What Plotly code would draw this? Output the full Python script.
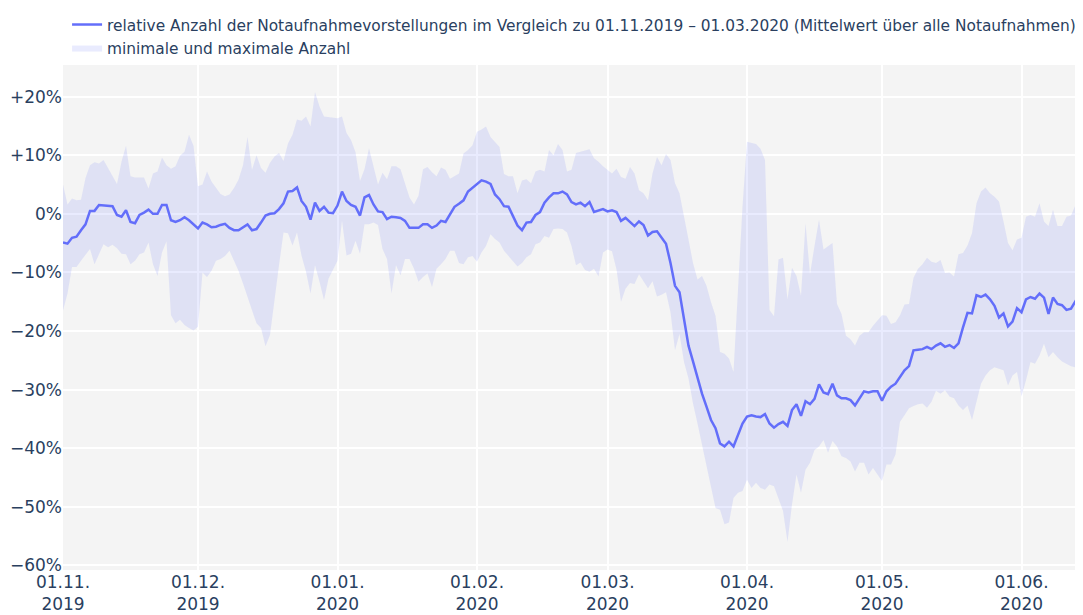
import pandas as pd
import plotly.graph_objects as go

# Tageswerte ab 01.11.2019, Abweichung in Prozent
start_date = "2019-11-01"

mean_pct = [
    -4.9, -5.1, -4.1, -3.9, -2.8, -1.8, 0.5, 0.5, 1.5, 1.4,
    1.3, 1.3, -0.2, -0.5, 0.6, -1.4, -1.6, -0.2, 0.2, 0.7,
    0.0, 0.0, 1.5, 1.5, -1.1, -1.4, -1.1, -0.6, -1.1, -1.8,
    -2.5, -1.5, -1.8, -2.3, -2.2, -1.9, -1.7, -2.4, -2.8, -2.8,
    -2.3, -1.8, -2.8, -2.6, -1.5, -0.3, 0.0, 0.1, 0.8, 1.8,
    3.8, 3.9, 4.5, 2.2, 1.2, -1.0, 1.9, 0.5, 1.2, 0.2,
    0.1, 1.4, 3.8, 2.2, 1.5, 1.2, -0.3, 2.8, 3.2, 1.6,
    0.4, 0.3, -0.9, -0.5, -0.6, -0.7, -1.2, -2.4, -2.4, -2.4,
    -1.8, -1.8, -2.4, -2.0, -1.2, -1.4, -0.1, 1.2, 1.7, 2.3,
    3.8, 4.4, 5.1, 5.7, 5.5, 5.1, 3.3, 2.5, 1.3, 1.2,
    -0.4, -2.0, -2.8, -1.5, -1.4, -0.2, 0.3, 1.9, 2.8, 3.5,
    3.5, 3.8, 3.3, 2.0, 1.6, 1.9, 1.3, 2.0, 0.3, 0.5,
    0.8, 0.4, 0.6, 0.3, -1.2, -0.7, -1.4, -2.1, -1.3, -1.9,
    -3.7, -3.1, -3.0, -4.0, -5.1, -8.4, -12.3, -13.4, -18.0, -22.5,
    -25.2, -28.1, -30.7, -32.9, -35.2, -36.6, -39.2, -39.7, -38.9, -39.7,
    -37.7, -35.8, -34.6, -34.4, -34.6, -34.7, -34.2, -35.8, -36.5, -35.9,
    -35.5, -36.2, -33.5, -32.5, -34.5, -32.0, -32.5, -31.6, -29.1, -30.5,
    -30.8, -29.0, -31.0, -31.5, -31.5, -31.8, -32.7, -31.5, -30.3, -30.5,
    -30.3, -30.3, -31.9, -30.3, -29.5, -29.0, -27.9, -26.7, -26.0, -23.3,
    -23.2, -23.1, -22.7, -23.1, -22.5, -22.1, -22.7, -22.4, -22.9, -22.1,
    -19.4, -16.9, -17.0, -13.9, -14.2, -13.8, -14.6, -15.7, -17.7, -17.0,
    -19.2, -18.4, -16.1, -16.8, -14.6, -14.2, -14.5, -13.6, -14.3, -17.1,
    -14.3, -15.4, -15.6, -16.4, -16.2, -14.9, -13.6,
]

max_pct = [
    5.0, 1.6, 2.6, 2.3, 2.4, 6.1, 8.3, 8.8, 8.6, 9.2,
    7.8, 6.5, 5.1, 8.9, 11.6, 6.4, 6.2, 6.2, 6.2, 4.3,
    6.9, 7.2, 9.6, 8.3, 7.7, 8.1, 9.9, 10.6, 13.5, 11.6,
    4.7, 5.0, 7.2, 5.5, 4.4, 3.4, 3.0, 3.3, 4.4, 5.8,
    8.3, 13.1, 7.5, 10.0, 7.8, 7.0, 8.7, 9.8, 10.4, 9.0,
    12.0, 13.5, 16.1, 15.9, 16.6, 14.9, 20.8, 18.3, 16.6, 16.5,
    16.5, 16.3, 16.6, 13.8, 12.6, 10.5, 5.6, 7.6, 11.2, 7.9,
    5.0, 7.0, 5.9, 8.1, 8.1, 7.6, 5.3, 2.8, 1.6, 3.1,
    7.6, 8.0, 7.1, 6.4, 7.9, 7.5, 6.0, 6.4, 6.9, 10.3,
    10.9, 11.7, 14.0, 14.4, 14.9, 13.1, 12.2, 11.4, 6.8, 6.4,
    6.4, 3.5, 5.7, 5.9, 5.2, 7.2, 7.5, 7.2, 10.9, 10.0,
    11.9, 10.9, 7.2, 7.5, 10.4, 10.6, 10.9, 11.0, 9.5, 8.9,
    8.1, 7.5, 6.9, 7.7, 6.3, 6.0, 8.0, 6.9, 4.0, 3.5,
    2.3, 6.9, 9.7, 8.3, 10.2, 9.2, 5.2, 3.5, -0.2, -4.4,
    -8.4, -11.2, -10.6, -12.3, -15.1, -17.4, -23.6, -23.9, -24.7, -27.0,
    -12.9, 1.2, 12.3, 12.1, 11.9, 11.1, 9.2, -16.4, -17.5, -7.8,
    -7.5, -14.6, -9.2, -10.6, -14.0, -1.6, -10.3, -5.5, -1.0, -6.1,
    -5.5, -5.0, -15.4, -17.1, -20.8, -21.4, -22.5, -20.8, -20.2, -20.2,
    -19.1, -18.2, -17.3, -17.4, -18.8, -18.5, -17.3, -15.5, -15.4, -10.9,
    -9.4, -8.6, -7.5, -8.2, -8.4, -7.9, -10.1, -10.0, -10.7, -6.9,
    -6.7, -5.4, -3.3, 1.8, 3.8, 4.5, 3.5, 2.9, 2.1, -1.3,
    -5.0, -6.2, -4.4, -4.1, -0.5, -0.2, -0.5, 1.8, -1.3, -2.1,
    0.7, -2.1, -2.1, -0.5, -0.3, 1.5, 0.4,
]

min_pct = [
    -16.5, -13.6, -9.1, -9.1, -8.0, -6.9, -6.0, -8.6, -6.9, -5.2,
    -5.7, -5.3, -5.9, -6.8, -6.9, -8.6, -8.0, -6.9, -6.6, -4.9,
    -8.6, -10.6, -6.6, -4.7, -17.3, -18.7, -18.1, -19.0, -19.5, -19.9,
    -19.3, -10.0, -10.8, -9.7, -8.0, -7.7, -7.2, -6.3, -8.0, -9.7,
    -11.9, -14.2, -16.5, -18.7, -19.5, -22.6, -20.7, -14.5, -8.8, -3.2,
    -3.3, -5.4, -3.2, -7.1, -9.9, -13.6, -8.8, -11.6, -14.7, -11.1,
    -9.4, -8.0, -1.2, -7.1, -6.8, -4.6, -6.8, -1.8, -1.8, -1.5,
    -1.9, -6.0, -7.7, -13.6, -8.8, -10.5, -7.7, -7.7, -9.4, -11.6,
    -10.8, -10.2, -12.5, -9.4, -8.6, -7.7, -6.3, -6.3, -8.4, -8.6,
    -7.4, -7.2, -8.2, -6.6, -5.5, -3.5, -4.3, -4.9, -6.3, -7.2,
    -8.0, -9.0, -8.4, -7.4, -6.9, -5.2, -4.9, -3.8, -4.1, -2.6,
    -2.5, -2.6, -3.2, -5.5, -8.8, -8.3, -9.6, -9.9, -9.4, -10.7,
    -6.6, -6.1, -6.4, -9.5, -15.0, -12.8, -11.8, -12.0, -10.3, -11.5,
    -12.7, -11.5, -14.1, -13.8, -13.4, -16.8, -23.3, -20.5, -25.3, -28.1,
    -32.4, -35.8, -39.4, -43.4, -46.8, -50.2, -50.5, -53.0, -52.7, -48.5,
    -47.6, -47.3, -45.4, -46.8, -45.9, -46.8, -47.1, -46.2, -46.5, -48.5,
    -50.7, -56.0, -49.6, -44.5, -47.6, -43.7, -42.5, -40.3, -39.7, -38.6,
    -40.8, -38.8, -39.7, -41.4, -41.7, -42.3, -44.0, -42.5, -42.5, -44.5,
    -43.4, -44.5, -45.6, -42.8, -42.8, -41.1, -35.5, -34.4, -33.2, -32.8,
    -32.5, -32.4, -33.1, -32.1, -30.2, -30.7, -30.1, -31.2, -31.5, -32.7,
    -33.5, -32.7, -35.2, -32.1, -29.0, -27.6, -26.7, -26.2, -26.4, -26.7,
    -29.3, -27.6, -27.0, -31.2, -28.4, -25.3, -25.6, -24.2, -22.2, -24.5,
    -23.6, -24.5, -25.2, -25.6, -26.0, -26.2, -26.7,
]

month_ticks = ["2019-11-01", "2019-12-01", "2020-01-01", "2020-02-01",
               "2020-03-01", "2020-04-01", "2020-05-01", "2020-06-01"]
month_labels = ["01.11.<br>2019", "01.12.<br>2019", "01.01.<br>2020", "01.02.<br>2020",
                "01.03.<br>2020", "01.04.<br>2020", "01.05.<br>2020", "01.06.<br>2020"]
pct_ticks = [20, 10, 0, -10, -20, -30, -40, -50, -60]
pct_labels = ["+20%", "+10%", "0%", "\u221210%", "\u221220%", "\u221230%",
              "\u221240%", "\u221250%", "\u221260%"]

dates = pd.date_range(start_date, periods=len(mean_pct), freq="D")

fig = go.Figure()

# Band: Maximum oben, Minimum unten
fig.add_trace(go.Scatter(
    x=dates, y=max_pct, mode="lines", line=dict(width=0),
    showlegend=False, hoverinfo="skip",
))
fig.add_trace(go.Scatter(
    x=dates, y=min_pct, mode="lines", line=dict(width=0),
    fill="tonexty", fillcolor="rgba(99,110,250,0.14)",
    name="minimale und maximale Anzahl", legendrank=2,
))
fig.add_trace(go.Scatter(
    x=dates, y=mean_pct, mode="lines",
    line=dict(color="#636efa", width=2.5),
    name="relative Anzahl der Notaufnahmevorstellungen im Vergleich zu 01.11.2019 \u2013 01.03.2020 (Mittelwert über alle Notaufnahmen)",
    legendrank=1,
))

# Seite hat 8px Rand, daher Figur etwas kleiner als das Fenster
fig.update_layout(
    width=1075, height=607,
    margin=dict(l=55, r=3, t=50, b=45),
    paper_bgcolor="white",
    plot_bgcolor="#f4f4f4",
    font=dict(family="DejaVu Sans", size=17, color="#2a3f5f"),
    legend=dict(x=0.004, y=1.0, xanchor="left", yanchor="top",
                yref="container", orientation="v", traceorder="normal",
                bgcolor="rgba(0,0,0,0)", font=dict(size=15.4)),
)
fig.update_xaxes(
    range=[dates[0], dates[-1]],
    tickvals=month_ticks, ticktext=month_labels,
    showgrid=True, gridcolor="white", gridwidth=1.5,
    zeroline=False, showline=False, automargin=False,
)
fig.update_yaxes(
    range=[-60.8, 25.4],
    tickvals=pct_ticks, ticktext=pct_labels,
    showgrid=True, gridcolor="white", gridwidth=1.5,
    zeroline=False, showline=False, automargin=False,
)

fig.write_html("out.html")
